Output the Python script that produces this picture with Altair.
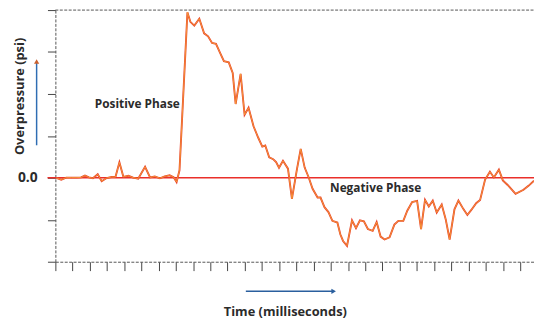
import altair as alt
import pandas as pd

# Time (tick units, ms) and overpressure (psi, tick units)
time_ms = [0.06,0.34,0.63,0.92,1.20,1.49,1.72,1.95,2.18,2.46,
           2.69,2.98,3.26,3.49,3.72,3.95,4.24,4.52,4.81,5.21,
           5.50,5.78,6.07,6.35,6.64,6.87,7.04,7.21,7.67,7.84,
           8.07,8.36,8.64,8.87,9.10,9.33,9.56,9.79,10.07,10.30,
           10.47,10.76,10.99,11.22,11.51,11.79,12.02,12.19,12.42,12.65,
           12.82,12.99,13.22,13.51,13.74,14.03,14.25,14.48,14.71,14.94,
           15.23,15.40,15.63,15.86,16.09,16.38,16.55,16.71,16.94,17.23,
           17.46,17.69,17.92,18.15,18.43,18.66,18.89,19.12,19.41,19.69,
           19.92,20.21,20.44,20.72,21.01,21.24,21.47,21.69,21.92,22.15,
           22.44,22.67,22.90,23.18,23.41,23.70,23.93,24.16,24.44,24.67,
           24.96,25.24,25.47,25.76,25.99,26.27,26.73,27.19,27.48,27.80]
overpressure = [0.00,-0.09,0.01,0.01,0.01,0.02,0.11,0.02,-0.02,0.17,
                -0.16,-0.01,0.04,0.04,0.74,0.05,0.10,0.01,-0.04,0.53,
                0.02,0.07,-0.02,0.07,0.12,0.03,-0.20,0.36,7.90,7.44,
                7.26,7.59,6.89,6.75,6.43,6.39,5.97,5.56,5.51,5.00,
                3.52,4.96,3.01,3.34,2.46,1.90,1.49,1.54,0.98,0.89,
                0.75,0.48,0.81,0.44,-1.00,0.40,1.38,0.49,0.03,-0.52,
                -0.94,-0.94,-1.40,-1.63,-2.05,-2.13,-2.69,-3.01,-3.24,-2.03,
                -2.40,-2.03,-2.07,-2.44,-2.53,-2.11,-2.80,-2.94,-2.84,-2.23,
                -2.05,-2.05,-1.57,-1.15,-1.10,-2.45,-1.05,-1.37,-1.09,-1.65,
                -1.27,-1.97,-2.94,-1.50,-1.08,-1.49,-1.77,-1.53,-1.21,-1.06,
                -0.08,0.29,0.02,0.39,-0.12,-0.34,-0.76,-0.57,-0.38,-0.14]

y_ticks = list(range(-4, 9))
x_ticks = list(range(0, 28))
annot_labels = ["Positive Phase", "Negative Phase"]
annot_t = [4.76, 18.6]
annot_v = [3.53, -0.49]

W, H = 485, 255
FONT = "Open Sans"
TXT = "#2b2b2b"

df = pd.DataFrame({"t": time_ms, "v": overpressure})
ann = pd.DataFrame({"label": annot_labels, "t": annot_t, "v": annot_v})

xscale = alt.Scale(domain=[0, 27.8], nice=False, zero=False)
yscale = alt.Scale(domain=[-4, 8], nice=False, zero=False)

xaxis = alt.Axis(values=x_ticks, labels=False, title=None, grid=False,
                 tickSize=9, tickColor="#444", tickWidth=1,
                 domainColor="#555", domainDash=[3, 1.5], domainWidth=1)
yaxis = alt.Axis(values=y_ticks, labels=False, grid=False,
                 title="Overpressure (psi)", titleAngle=270,
                 titleX=-36, titleY=87, titleAlign="center", titleBaseline="middle",
                 titleFont=FONT, titleFontSize=13, titleFontWeight="bold", titleColor=TXT,
                 tickSize=8, tickColor="#444", tickWidth=1,
                 domainColor="#555", domainDash=[3, 1.5], domainWidth=1)

X = alt.X("t:Q", scale=xscale, axis=xaxis)
Y = alt.Y("v:Q", scale=yscale, axis=yaxis)

one = pd.DataFrame({"a": [0]})

top_border = alt.Chart(one).mark_rule(color="#555", strokeDash=[3, 1.5], strokeWidth=1).encode(
    y=alt.datum(8), x=alt.value(0), x2=alt.value(W))
zero_line = alt.Chart(one).mark_rule(color="#ea2f2a", strokeWidth=1.5).encode(
    y=alt.datum(0), x=alt.value(-8), x2=alt.value(W))

red_line = alt.Chart(df).mark_line(color="#e8402b", strokeWidth=1.9, clip=True).encode(x=X, y=Y)
orange_line = alt.Chart(df).mark_line(color="#f8a83c", strokeWidth=0.8, clip=True).encode(x=X, y=Y)

phase_text = alt.Chart(ann).mark_text(font=FONT, fontSize=12, fontWeight="bold", color=TXT,
                                      align="center", baseline="middle").encode(
    x=X, y=Y, text="label:N")

zero_label = alt.Chart(one).mark_text(font=FONT, fontSize=14, fontWeight="bold", color=TXT,
                                      align="right", baseline="middle").encode(
    x=alt.value(-18), y=alt.datum(0), text=alt.value("0.0"))

y_arrow = alt.Chart(one).mark_rule(color="#2f6db3", strokeWidth=1.5).encode(
    x=alt.value(-19), y=alt.value(53), y2=alt.value(137))
y_head = alt.Chart(one).mark_point(shape="triangle-up", filled=True, size=28, opacity=1,
                                   color="#c9602e").encode(x=alt.value(-19), y=alt.value(52))

x_arrow = alt.Chart(one).mark_rule(color="#2a5f9e", strokeWidth=1.5).encode(
    x=alt.value(193), x2=alt.value(281), y=alt.value(285))
x_head = alt.Chart(one).mark_point(shape="triangle-right", filled=True, size=28, opacity=1,
                                   color="#2a5f9e").encode(x=alt.value(282), y=alt.value(285))

time_title = alt.Chart(one).mark_text(font=FONT, fontSize=13, fontWeight="bold", color=TXT,
                                      align="center", baseline="middle").encode(
    x=alt.value(233), y=alt.value(306), text=alt.value("Time (milliseconds)"))

chart = alt.layer(
    top_border, zero_line, red_line, orange_line, phase_text, zero_label,
    y_arrow, y_head, x_arrow, x_head, time_title
).properties(
    width=W, height=H,
    autosize=alt.AutoSizeParams(type="none"),
    padding={"left": 48, "top": 0, "right": 0, "bottom": 62},
    background="white",
).configure_view(stroke=None)

chart.save("out.html", embed_options={"renderer": "svg", "actions": False})
